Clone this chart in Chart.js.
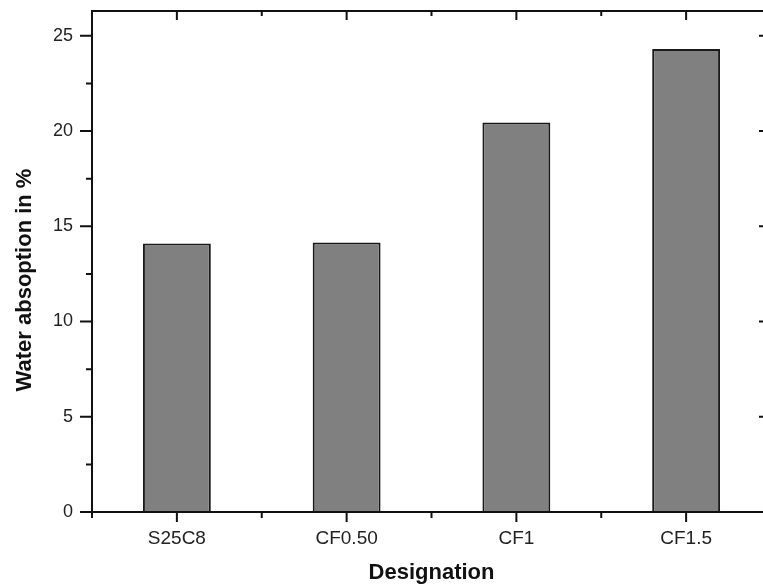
<!DOCTYPE html>
<html>
<head>
<meta charset="utf-8">
<script src="https://cdn.jsdelivr.net/npm/chart.js@4.4.1/dist/chart.umd.min.js"></script>
<style>
  html, body { margin: 0; padding: 0; background: #fff; overflow: hidden; }
  #wrap { position: absolute; left: 0; top: 0; width: 780px; height: 584px; }
</style>
</head>
<body>
<div id="wrap"><canvas id="myChart" width="780" height="584"></canvas></div>
<script>
// data
const categories = ["S25C8", "CF0.50", "CF1", "CF1.5"];
const waterAbsorption = [14.1, 14.15, 20.45, 24.3];
const yTicks = [0, 5, 10, 15, 20, 25];
const yMinorTicks = [2.5, 7.5, 12.5, 17.5, 22.5];
const yTitle = "Water absoption in %";
const xTitle = "Designation";

const FONT = "'Liberation Sans', Arial, Helvetica, sans-serif";

// frame, mirrored ticks and the rotated y title
const framePlugin = {
  id: "frame",
  afterDraw(chart) {
    const { ctx, chartArea: a, scales } = chart;
    const x = scales.x, y = scales.y;
    ctx.save();
    ctx.strokeStyle = "#111";
    ctx.lineWidth = 2;
    ctx.strokeRect(a.left, a.top, a.right - a.left, a.bottom - a.top);

    ctx.beginPath();
    yTicks.forEach((v) => {
      const py = y.getPixelForValue(v);
      ctx.moveTo(a.left - 12, py); ctx.lineTo(a.left, py);
      ctx.moveTo(a.right - 12, py); ctx.lineTo(a.right, py);
    });
    yMinorTicks.forEach((v) => {
      const py = y.getPixelForValue(v);
      ctx.moveTo(a.left - 6, py); ctx.lineTo(a.left, py);
      ctx.moveTo(a.right - 6, py); ctx.lineTo(a.right, py);
    });
    categories.forEach((c, i) => {
      const px = x.getPixelForValue(i);
      ctx.moveTo(px, a.bottom); ctx.lineTo(px, a.bottom + 10);
      ctx.moveTo(px, a.top); ctx.lineTo(px, a.top + 9);
    });
    for (let i = -0.5; i <= categories.length - 0.5; i++) {
      const px = x.getPixelForValue(i);
      ctx.moveTo(px, a.bottom); ctx.lineTo(px, a.bottom + 6);
      ctx.moveTo(px, a.top); ctx.lineTo(px, a.top + 5);
    }
    ctx.stroke();

    ctx.translate(25, 280);
    ctx.rotate(-Math.PI / 2);
    ctx.fillStyle = "#111";
    ctx.font = "bold 22px " + FONT;
    ctx.textAlign = "center";
    ctx.textBaseline = "middle";
    ctx.fillText(yTitle, 0, 0);
    ctx.restore();
  },
};

const ctx = document.getElementById("myChart").getContext("2d");
const myChart = new Chart(ctx, {
  type: "bar",
  data: {
    labels: categories,
    datasets: [
      {
        label: yTitle,
        data: waterAbsorption,
        backgroundColor: "#808080",
        borderColor: "#1a1a1a",
        borderWidth: 2,
        barPercentage: 0.4,
        categoryPercentage: 1,
      },
    ],
  },
  options: {
    responsive: false,
    animation: false,
    layout: { padding: { left: 0, top: 11, right: 9, bottom: 0 } },
    plugins: {
      legend: { display: false },
      tooltip: { enabled: false },
    },
    scales: {
      x: {
        grid: { display: false, drawTicks: false },
        border: { display: false },
        ticks: {
          color: "#222",
          font: { family: FONT, size: 19 },
          padding: 15,
          maxRotation: 0,
        },
        title: {
          display: true,
          text: xTitle,
          color: "#111",
          font: { family: FONT, size: 22, weight: "bold", lineHeight: 1 },
          padding: { top: 0, bottom: 0 },
        },
        afterFit: (s) => {
          s.height = 72;
          s.paddingLeft = 0;
          s.paddingRight = 0;
        },
      },
      y: {
        min: 0,
        max: 26.3,
        grid: { display: false, drawTicks: false },
        border: { display: false },
        ticks: {
          color: "#222",
          font: { family: FONT, size: 18 },
          padding: 19,
        },
        afterBuildTicks: (s) => {
          s.ticks = yTicks.map((v) => ({ value: v }));
        },
        afterFit: (s) => {
          s.width = 92;
          s.paddingTop = 0;
          s.paddingBottom = 0;
        },
      },
    },
  },
  plugins: [framePlugin],
});
</script>
</body>
</html>
